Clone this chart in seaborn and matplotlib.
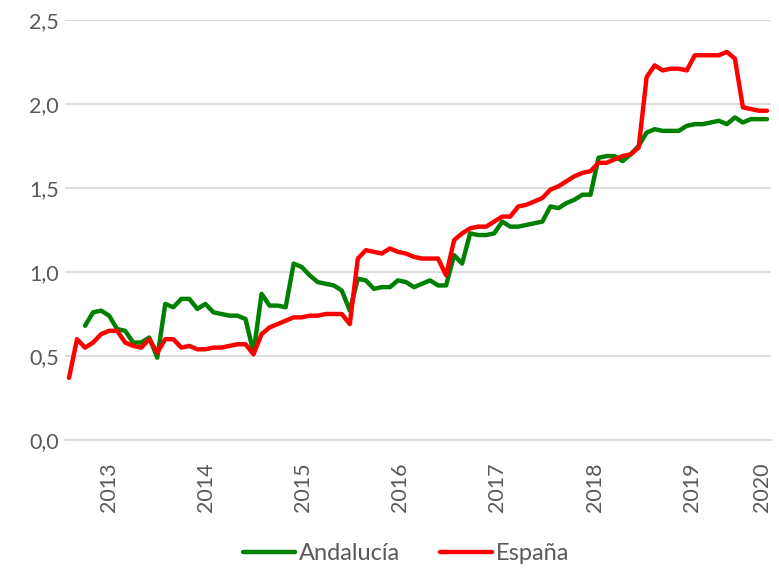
import numpy as np
import pandas as pd
import matplotlib.pyplot as plt
import seaborn as sns

# monthly values, Jan 2013 .. Apr 2020
years = ['2013', '2014', '2015', '2016', '2017', '2018', '2019', '2020']

espana = [
    0.37, 0.60, 0.55, 0.58, 0.63, 0.65, 0.65, 0.58, 0.56, 0.55, 0.60, 0.52,
    0.60, 0.60, 0.55, 0.56, 0.54, 0.54, 0.55, 0.55, 0.56, 0.57, 0.57, 0.51,
    0.63, 0.67, 0.69, 0.71, 0.73, 0.73, 0.74, 0.74, 0.75, 0.75, 0.75, 0.69,
    1.08, 1.13, 1.12, 1.11, 1.14, 1.12, 1.11, 1.09, 1.08, 1.08, 1.08, 0.98,
    1.19, 1.23, 1.26, 1.27, 1.27, 1.30, 1.33, 1.33, 1.39, 1.40, 1.42, 1.44,
    1.49, 1.51, 1.54, 1.57, 1.59, 1.60, 1.65, 1.65, 1.67, 1.69, 1.70, 1.74,
    2.16, 2.23, 2.20, 2.21, 2.21, 2.20, 2.29, 2.29, 2.29, 2.29, 2.31, 2.27,
    1.98, 1.97, 1.96, 1.96,
]

andalucia = [
    np.nan, np.nan, 0.68, 0.76, 0.77, 0.74, 0.66, 0.65, 0.58, 0.58, 0.61, 0.49,
    0.81, 0.79, 0.84, 0.84, 0.78, 0.81, 0.76, 0.75, 0.74, 0.74, 0.72, 0.52,
    0.87, 0.80, 0.80, 0.79, 1.05, 1.03, 0.98, 0.94, 0.93, 0.92, 0.89, 0.77,
    0.96, 0.95, 0.90, 0.91, 0.91, 0.95, 0.94, 0.91, 0.93, 0.95, 0.92, 0.92,
    1.10, 1.05, 1.23, 1.22, 1.22, 1.23, 1.30, 1.27, 1.27, 1.28, 1.29, 1.30,
    1.39, 1.38, 1.41, 1.43, 1.46, 1.46, 1.68, 1.69, 1.69, 1.66, 1.70, 1.75,
    1.83, 1.85, 1.84, 1.84, 1.84, 1.87, 1.88, 1.88, 1.89, 1.90, 1.88, 1.92,
    1.89, 1.91, 1.91, 1.91,
]

# year separators and year label positions (in month units)
year_edges = [-0.5, 11.5, 23.6, 35.7, 47.8, 60.0, 72.0, 84.1]
year_centers = [5.0, 17.1, 29.2, 41.3, 53.4, 65.6, 77.7, 86.4]

df = pd.DataFrame({'mes': range(len(espana)), 'Andalucía': andalucia, 'España': espana})
df = df.melt(id_vars='mes', var_name='serie', value_name='valor')

sns.set_theme(style='white')
plt.rcParams['font.family'] = ['Lato', 'DejaVu Sans']
grey = '#595959'

fig, ax = plt.subplots(figsize=(7.79, 5.70), dpi=100)
fig.subplots_adjust(left=65/779, right=771/779, top=1-20/570, bottom=1-440/570)

sns.lineplot(data=df, x='mes', y='valor', hue='serie',
             palette={'Andalucía': '#008000', 'España': '#ff0000'},
             linewidth=3.2, solid_joinstyle='round', solid_capstyle='round', ax=ax)

ax.set_ylim(0, 2.5)
ax.set_xlim(-0.5, 87.5)
yt = np.arange(0, 2.51, 0.5)
ax.set_yticks(yt)
ax.set_yticklabels([f'{v:.1f}'.replace('.', ',') for v in yt], color=grey, fontsize=15.5)
ax.yaxis.grid(True, color='#d9d9d9', linewidth=1.3)
ax.tick_params(axis='y', length=0, pad=4.5)

ax.set_xticks(year_edges)
ax.set_xticklabels([])
ax.tick_params(axis='x', which='major', length=14.5, width=1.3, color='#d9d9d9', direction='out')
ax.set_xticks(year_centers, minor=True)
ax.set_xticklabels(years, minor=True, rotation=90, color=grey, fontsize=15.5)
ax.tick_params(axis='x', which='minor', length=0, pad=16)

for s in ['top', 'right', 'left']:
    ax.spines[s].set_visible(False)
ax.spines['bottom'].set_color('#d9d9d9')
ax.spines['bottom'].set_linewidth(1.3)
ax.set_xlabel('')
ax.set_ylabel('')

handles, labels = ax.get_legend_handles_labels()
ax.get_legend().remove()
leg = fig.legend(handles, labels, loc='center', bbox_to_anchor=(406/779, 1-554/570), ncol=2,
                 frameon=False, fontsize=17, handlelength=2.2, handletextpad=0.15, columnspacing=1.7)
for t in leg.get_texts():
    t.set_color(grey)

plt.savefig('out.png', dpi=100)
